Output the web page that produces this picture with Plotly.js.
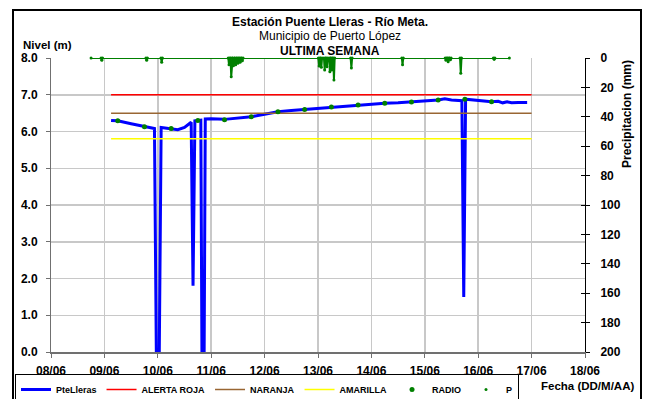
<!DOCTYPE html>
<html>
<head>
<meta charset="utf-8">
<script src="https://cdn.plot.ly/plotly-3.0.1.min.js"></script>
<style>
  html, body { margin: 0; padding: 0; background: #fff; }
  #wrap { position: relative; width: 656px; height: 399px; overflow: hidden; }
  #chart { width: 656px; height: 399px; }
  #frame { position: absolute; left: 12px; top: 9px; width: 626px; height: 400px;
           border: 2px solid #000; pointer-events: none; }
</style>
</head>
<body>
<div id="wrap"><div id="chart"></div><div id="frame"></div></div>
<script>
// ---- Data ----
const levelTime = [
  '2021-06-09 03:00','2021-06-09 06:00','2021-06-09 12:00','2021-06-09 18:00','2021-06-09 22:30',
  '2021-06-09 23:20','2021-06-10 00:40','2021-06-10 01:30','2021-06-10 06:00','2021-06-10 09:00',
  '2021-06-10 12:00','2021-06-10 15:00','2021-06-10 15:50','2021-06-10 16:40','2021-06-10 18:00',
  '2021-06-10 19:20','2021-06-10 19:50','2021-06-10 20:50','2021-06-10 21:20','2021-06-11 00:00',
  '2021-06-11 06:00','2021-06-11 12:00','2021-06-11 18:00','2021-06-12 00:00','2021-06-12 06:00',
  '2021-06-12 12:00','2021-06-12 18:00','2021-06-13 00:00','2021-06-13 06:00','2021-06-13 12:00',
  '2021-06-13 18:00','2021-06-14 00:00','2021-06-14 06:00','2021-06-14 12:00','2021-06-14 18:00',
  '2021-06-15 00:00','2021-06-15 06:00','2021-06-15 09:00','2021-06-15 12:00','2021-06-15 16:40',
  '2021-06-15 17:30','2021-06-15 18:20','2021-06-16 00:00','2021-06-16 06:00','2021-06-16 09:00',
  '2021-06-16 11:00','2021-06-16 13:00','2021-06-16 15:00','2021-06-16 18:00','2021-06-16 22:00'
];
const levelVal = [
  6.30,6.29,6.21,6.13,6.08,
  0.00,0.00,6.11,6.08,6.05,
  6.11,6.25,1.80,6.29,6.30,
  6.31,0.00,0.00,6.34,6.35,
  6.33,6.36,6.40,6.47,6.54,
  6.57,6.60,6.64,6.67,6.70,
  6.72,6.75,6.77,6.78,6.80,
  6.83,6.86,6.89,6.86,6.84,
  1.50,6.88,6.85,6.81,6.82,
  6.78,6.81,6.78,6.79,6.79
];

const alertTime = ['2021-06-09 03:00','2021-06-17 00:00'];
const alertaRoja = [7.0, 7.0];
const naranja = [6.5, 6.5];
const amarilla = [5.8, 5.8];

const radioTime = [
  '2021-06-09 06:00','2021-06-09 18:00','2021-06-10 06:00','2021-06-10 18:00','2021-06-11 06:00',
  '2021-06-11 18:00','2021-06-12 06:00','2021-06-12 18:00','2021-06-13 06:00','2021-06-13 18:00',
  '2021-06-14 06:00','2021-06-14 18:00','2021-06-15 06:00','2021-06-15 18:00','2021-06-16 06:00'
];
const radioVal = [6.29,6.13,6.08,6.30,6.32,6.40,6.54,6.60,6.67,6.72,6.77,6.80,6.86,6.88,6.81];

const pTime = [
  '2021-06-08 18:00',
  '2021-06-08 22:30','2021-06-08 22:50','2021-06-08 23:10',
  '2021-06-09 18:40','2021-06-09 19:00','2021-06-09 19:20',
  '2021-06-10 01:25','2021-06-10 01:45','2021-06-10 02:05',
  '2021-06-11 07:40','2021-06-11 08:00','2021-06-11 08:20',
  '2021-06-11 08:40','2021-06-11 09:00','2021-06-11 09:20',
  '2021-06-11 09:40','2021-06-11 10:00','2021-06-11 10:20',
  '2021-06-11 10:40','2021-06-11 11:00','2021-06-11 11:20',
  '2021-06-11 11:40','2021-06-11 12:00','2021-06-11 12:20',
  '2021-06-11 12:40','2021-06-11 13:00','2021-06-11 13:20',
  '2021-06-11 13:40','2021-06-11 14:00','2021-06-11 14:20',
  '2021-06-13 00:10','2021-06-13 00:30','2021-06-13 00:50',
  '2021-06-13 01:10','2021-06-13 01:30','2021-06-13 01:50',
  '2021-06-13 02:40','2021-06-13 03:00','2021-06-13 03:20',
  '2021-06-13 03:40','2021-06-13 04:00','2021-06-13 04:20',
  '2021-06-13 05:00','2021-06-13 05:20','2021-06-13 05:40',
  '2021-06-13 05:50','2021-06-13 06:10','2021-06-13 06:30',
  '2021-06-13 06:50','2021-06-13 07:10','2021-06-13 07:30',
  '2021-06-13 14:40','2021-06-13 15:00','2021-06-13 15:20',
  '2021-06-14 13:40','2021-06-14 14:00','2021-06-14 14:20',
  '2021-06-15 09:10','2021-06-15 09:30','2021-06-15 09:50',
  '2021-06-15 10:10','2021-06-15 10:30','2021-06-15 10:50',
  '2021-06-15 11:10','2021-06-15 11:30','2021-06-15 11:50',
  '2021-06-15 15:50','2021-06-15 16:10','2021-06-15 16:30',
  '2021-06-16 06:50','2021-06-16 07:10','2021-06-16 07:30',
  '2021-06-16 14:00'
];
const pVal = [
  0,
  0,1.6,0,
  0,1.6,0,
  0,2.9,0,
  0,4.6,0,
  0,12.7,0,
  0,5.2,0,
  0,4.6,0,
  0,3.6,0,
  0,2.9,0,
  0,1.9,0,
  0,5.4,0,
  0,6.3,0,
  0,8.2,0,
  0,5.9,0,
  0,9.3,0,
  0,8.2,0,
  0,15.0,0,
  0,6.8,0,
  0,4.6,0,
  0,1.5,0,
  0,2.5,0,
  0,1.2,0,
  0,10.4,0,
  0,0.8,0,
  0
];

const xRange = ['2021-06-08 00:00','2021-06-18 00:00'];

// ---- Traces ----
const FONT = 'Liberation Sans, Arial, sans-serif';
const green = '#008000';
const traces = [
  {x: pTime, y: pVal, yaxis: 'y2', type: 'scatter', mode: 'lines', name: 'P line',
   line: {color: green, width: 2}, showlegend: false, hoverinfo: 'skip', cliponaxis: false},
  {x: levelTime, y: levelVal, type: 'scatter', mode: 'lines', name: 'PteLleras',
   line: {color: '#0000ff', width: 3}, legendrank: 1},
  {x: alertTime, y: alertaRoja, type: 'scatter', mode: 'lines', name: 'ALERTA ROJA',
   line: {color: '#ff0000', width: 1.5}, legendrank: 2},
  {x: alertTime, y: naranja, type: 'scatter', mode: 'lines', name: 'NARANJA',
   line: {color: '#996633', width: 1.5}, legendrank: 3},
  {x: alertTime, y: amarilla, type: 'scatter', mode: 'lines', name: 'AMARILLA',
   line: {color: '#ffff00', width: 1.5}, legendrank: 4},
  {x: radioTime, y: radioVal, type: 'scatter', mode: 'markers', name: 'RADIO',
   marker: {color: green, size: 5}, legendrank: 5},
  {x: pTime, y: pVal, yaxis: 'y2', type: 'scatter', mode: 'markers', name: 'P',
   marker: {color: green, size: 3}, legendrank: 6, cliponaxis: false}
];

const tickFont = {family: FONT, size: 12, color: '#000', weight: 'bold'};
const T = 58, B = 352, L = 51, R = 585;
function yp(px) { return (B - px) / (B - T); }   // pixel row -> paper y
function xp(px) { return (px - L) / (R - L); }   // pixel column -> paper x
const layout = {
  width: 656, height: 399,
  margin: {l: L, r: 656 - R, t: T, b: 399 - B, pad: 0, autoexpand: false},
  paper_bgcolor: '#fff', plot_bgcolor: '#fff',
  font: {family: FONT, color: '#000'},
  showlegend: true,
  xaxis: {
    type: 'date', range: xRange, tick0: '2021-06-08', dtick: 86400000,
    tickformat: '%d/%m', tickfont: tickFont, ticklabelstandoff: 3,
    showgrid: true, gridcolor: '#c8c8c8', gridwidth: 1.5,
    showline: true, linecolor: '#707070', linewidth: 2,
    ticks: 'outside', ticklen: 4, tickcolor: '#707070',
    zeroline: false, fixedrange: true
  },
  yaxis: {
    range: [0, 8], dtick: 1, tickformat: '.1f', tickfont: tickFont, ticklabelstandoff: 6,
    showgrid: true, gridcolor: '#c8c8c8', gridwidth: 1.5,
    showline: true, linecolor: '#707070', linewidth: 1,
    ticks: 'outside', ticklen: 4, tickcolor: '#707070',
    zeroline: false, fixedrange: true
  },
  yaxis2: {
    overlaying: 'y', side: 'right', range: [200, 0], dtick: 20,
    tickfont: tickFont, ticklabelstandoff: 8, showgrid: false,
    showline: true, linecolor: '#000', linewidth: 1,
    ticks: 'outside', ticklen: 4, tickcolor: '#000',
    zeroline: false, fixedrange: true
  },
  yaxis3: {
    overlaying: 'y', side: 'right', range: [200, 0], dtick: 20,
    showticklabels: false, showgrid: false, showline: false,
    ticks: 'inside', ticklen: 4, tickcolor: '#000', zeroline: false, fixedrange: true
  },
  legend: {
    orientation: 'h', x: xp(15), xanchor: 'left', y: yp(374), yanchor: 'top',
    bordercolor: '#000', borderwidth: 1, bgcolor: '#fff',
    font: {family: FONT, size: 9, color: '#000', weight: 'bold'},
    itemwidth: 30, tracegroupgap: 0, traceorder: 'normal'
  },
  annotations: [
    {text: '<b>Estación Puente Lleras - Río Meta.</b>', xref: 'paper', yref: 'paper',
     x: xp(330), y: yp(22.5), xanchor: 'center', yanchor: 'middle', showarrow: false,
     font: {family: FONT, size: 12, color: '#000'}},
    {text: 'Municipio de Puerto López', xref: 'paper', yref: 'paper',
     x: xp(330), y: yp(36.5), xanchor: 'center', yanchor: 'middle', showarrow: false,
     font: {family: FONT, size: 12, color: '#000'}},
    {text: '<b>ULTIMA SEMANA</b>', xref: 'paper', yref: 'paper',
     x: xp(330), y: yp(50.5), xanchor: 'center', yanchor: 'middle', showarrow: false,
     font: {family: FONT, size: 12, color: '#000'}},
    {text: '<b>Nivel (m)</b>', xref: 'paper', yref: 'paper', x: xp(21), y: yp(45),
     xanchor: 'left', yanchor: 'middle', showarrow: false, font: {family: FONT, size: 11.5, color: '#000'}},
    {text: '<b>Fecha (DD/M/AA)</b>', xref: 'paper', yref: 'paper', x: xp(636), y: yp(386),
     xanchor: 'right', yanchor: 'middle', showarrow: false, font: {family: FONT, size: 11.5, color: '#000'}},
    {text: '<b>Precipitacion (mm)</b>', xref: 'paper', yref: 'paper', x: xp(627), y: yp(114),
     xanchor: 'center', yanchor: 'middle', textangle: -90, showarrow: false,
     font: {family: FONT, size: 12, color: '#000'}}
  ]
};

// dummy trace to activate yaxis3 (inner tick marks of right axis)
traces.push({x: xRange, y: [null, null], yaxis: 'y3', type: 'scatter', mode: 'lines',
  showlegend: false, hoverinfo: 'skip'});

Plotly.newPlot('chart', traces, layout, {displayModeBar: false, staticPlot: true});
</script>
</body>
</html>
